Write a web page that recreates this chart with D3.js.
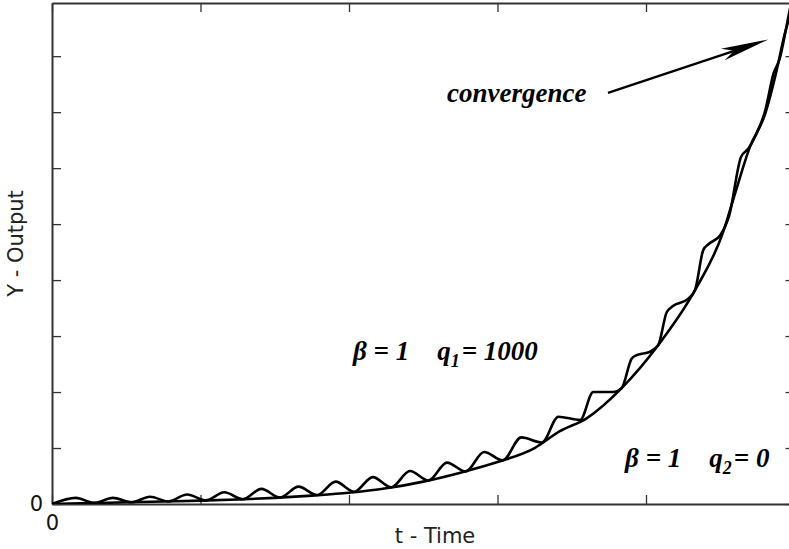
<!DOCTYPE html>
<html>
<head>
<meta charset="utf-8">
<script src="https://cdn.jsdelivr.net/npm/d3@7"></script>
<style>
  body { margin: 0; background: #fff; }
  svg { display: block; }
</style>
</head>
<body>
<div id="chart"></div>
<script>
// q2 = 0 : smooth exponential response (t, Y)
const smoothT = [0, 0.25, 0.5, 0.75, 1.0, 1.25, 1.5, 1.75, 2.0, 2.25, 2.5, 2.75, 3.0, 3.25,
                 3.42, 3.6, 3.836, 4.083, 4.33, 4.52, 4.6, 4.7, 4.8, 4.88, 4.93, 4.97, 5.0];
const smoothY = [0, 0.015, 0.03, 0.045, 0.06, 0.08, 0.11, 0.15, 0.2, 0.28, 0.4, 0.56, 0.75, 1.0,
                 1.3, 1.53, 2.07, 2.84, 3.82, 4.86, 5.55, 6.38, 6.95, 7.75, 8.35, 8.75, 9.1];

// q1 = 1000 : oscillating response, peaks and troughs
const oscT = [0, 0.16, 0.285, 0.41, 0.535, 0.66, 0.785, 0.91, 1.035, 1.16, 1.285, 1.41, 1.535,
              1.66, 1.785, 1.91, 2.035, 2.16, 2.285, 2.41, 2.535, 2.66, 2.785, 2.91, 3.035, 3.16,
              3.3, 3.41, 3.556, 3.645, 3.78, 3.836, 3.904, 3.937, 4.027, 4.083, 4.14, 4.184,
              4.285, 4.33, 4.386, 4.42, 4.5, 4.56, 4.64, 4.69, 4.745, 4.8, 4.86, 4.9, 4.94, 4.97, 5.0];
const oscY = [0, 0.11, 0.02, 0.11, 0.03, 0.13, 0.045, 0.17, 0.065, 0.21, 0.085, 0.27, 0.115,
              0.31, 0.16, 0.40, 0.22, 0.48, 0.30, 0.59, 0.42, 0.74, 0.58, 0.93, 0.78, 1.19,
              1.1, 1.56, 1.50, 2.0, 2.0, 2.07, 2.60, 2.66, 2.72, 2.84, 3.43, 3.54,
              3.67, 3.82, 4.54, 4.64, 4.80, 5.15, 6.2, 6.35, 6.62, 7.0, 7.7, 7.95, 8.45, 8.85, 9.2];

const xTicks = [0, 1, 2, 3, 4, 5];
const yTicks = [0, 1, 2, 3, 4, 5, 6, 7, 8];

// annotations, in data units
const arrowFrom = [3.744, 7.345];
const arrowTo = [4.824, 8.30];
const convergencePos = [2.66, 7.18];
const label1Pos = [2.027, 2.57];
const label2Pos = [3.859, 0.666];

const W = 789, H = 549;
const plot = { left: 52, right: 794.5, top: 3, bottom: 504 };
const axisColor = "#333";
const serif = "'Liberation Serif', 'Times New Roman', serif";
const sans = "'DejaVu Sans', Verdana, sans-serif";

const svg = d3.select("#chart").append("svg")
    .attr("width", W)
    .attr("height", H);

svg.append("rect").attr("width", W).attr("height", H).attr("fill", "#fff");

const x = d3.scaleLinear().domain([0, 5]).range([plot.left, plot.right]);
const y = d3.scaleLinear().domain([0, 8.95]).range([plot.bottom, plot.top]);

svg.append("defs").append("clipPath").attr("id", "plot-clip")
    .append("rect")
    .attr("x", plot.left).attr("y", plot.top)
    .attr("width", plot.right - plot.left).attr("height", plot.bottom - plot.top);

// axes, ticks pointing inward on all four sides
function styleAxis(g) {
    g.select(".domain").attr("stroke", axisColor).attr("stroke-width", 2);
    g.selectAll(".tick line").attr("stroke", axisColor).attr("stroke-width", 1.3);
    g.selectAll(".tick text").attr("fill", "#111").attr("font-family", sans).attr("font-size", "21px");
}

svg.append("g")
    .attr("transform", `translate(0,${plot.bottom})`)
    .call(d3.axisBottom(x).tickValues(xTicks).tickSize(-9).tickSizeOuter(0).tickPadding(11)
        .tickFormat(d => d === 0 ? "0" : ""))
    .call(styleAxis);

svg.append("g")
    .attr("transform", `translate(0,${plot.top})`)
    .call(d3.axisTop(x).tickValues(xTicks).tickSize(-9).tickSizeOuter(0).tickFormat(""))
    .call(styleAxis);

svg.append("g")
    .attr("transform", `translate(${plot.left},0)`)
    .call(d3.axisLeft(y).tickValues(yTicks).tickSize(-9).tickSizeOuter(0).tickPadding(9)
        .tickFormat(d => d === 0 ? "0" : ""))
    .call(styleAxis);

svg.append("g")
    .attr("transform", `translate(${plot.right},0)`)
    .call(d3.axisRight(y).tickValues(yTicks).tickSize(-9).tickSizeOuter(0).tickFormat(""))
    .call(styleAxis);

// axis titles
svg.append("text")
    .attr("transform", `translate(17,${(plot.top + plot.bottom) / 2 - 10}) rotate(-90)`)
    .attr("text-anchor", "middle")
    .attr("dominant-baseline", "middle")
    .attr("font-family", sans)
    .attr("font-size", "21px")
    .attr("fill", "#222")
    .text("Y - Output");

svg.append("text")
    .attr("x", 435)
    .attr("y", 543)
    .attr("text-anchor", "middle")
    .attr("font-family", sans)
    .attr("font-size", "21px")
    .attr("fill", "#222")
    .text("t - Time");

// curves
const line = d3.line()
    .x(d => x(d[0]))
    .y(d => y(d[1]))
    .curve(d3.curveMonotoneX);

const curves = svg.append("g").attr("clip-path", "url(#plot-clip)");

curves.append("path")
    .attr("d", line(smoothT.map((t, i) => [t, smoothY[i]])))
    .attr("fill", "none")
    .attr("stroke", "#000")
    .attr("stroke-width", 2.6);

curves.append("path")
    .attr("d", line(oscT.map((t, i) => [t, oscY[i]])))
    .attr("fill", "none")
    .attr("stroke", "#000")
    .attr("stroke-width", 2.6);

// convergence arrow
const ax0 = x(arrowFrom[0]), ay0 = y(arrowFrom[1]);
const ax1 = x(arrowTo[0]), ay1 = y(arrowTo[1]);
const ang = Math.atan2(ay1 - ay0, ax1 - ax0);
const headLen = 48, headW = 6, notch = 36;
const pt = (along, side) => [
    ax1 - along * Math.cos(ang) - side * Math.sin(ang),
    ay1 - along * Math.sin(ang) + side * Math.cos(ang)
];

svg.append("line")
    .attr("x1", ax0).attr("y1", ay0)
    .attr("x2", pt(notch, 0)[0]).attr("y2", pt(notch, 0)[1])
    .attr("stroke", "#000")
    .attr("stroke-width", 2.4);

svg.append("path")
    .attr("d", d3.line()([pt(0, 0), pt(headLen, -headW), pt(notch, 0), pt(headLen, headW)]) + "Z")
    .attr("fill", "#000");

// labels
svg.append("text")
    .attr("x", x(convergencePos[0]))
    .attr("y", y(convergencePos[1]))
    .attr("font-family", serif)
    .attr("font-style", "italic")
    .attr("font-weight", "bold")
    .attr("font-size", "27px")
    .text("convergence");

function paramLabel(pos, sub, value) {
    const t = svg.append("text")
        .attr("x", x(pos[0]))
        .attr("y", y(pos[1]))
        .attr("font-family", serif)
        .attr("font-style", "italic")
        .attr("font-weight", "bold")
        .attr("font-size", "27px");
    t.append("tspan").text("β = 1");
    t.append("tspan").attr("dx", 28).text("q");
    t.append("tspan").attr("dy", 7).attr("font-size", "18px").text(sub);
    t.append("tspan").attr("dy", -7).attr("dx", 2).text("= " + value);
}

paramLabel(label1Pos, "1", "1000");
paramLabel(label2Pos, "2", "0");
</script>
</body>
</html>
